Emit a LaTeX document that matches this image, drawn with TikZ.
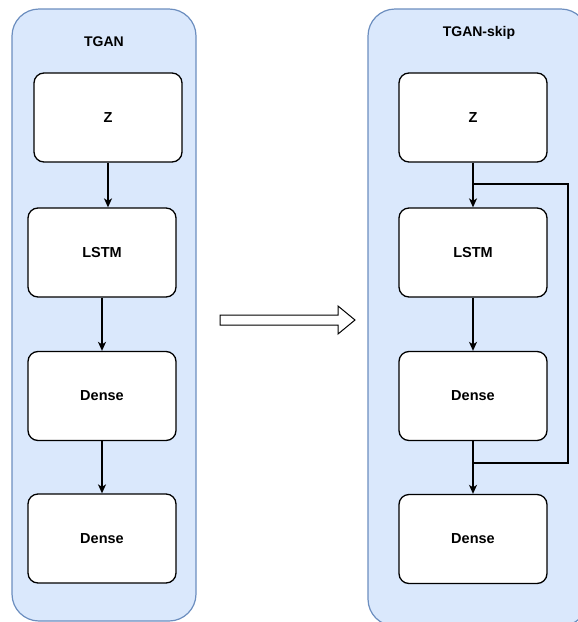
\documentclass[tikz,border=0pt]{standalone}
\usepackage{fontspec}
\setmainfont{Liberation Sans}
\usetikzlibrary{arrows.meta}
\definecolor{panelfill}{HTML}{DAE8FC}
\definecolor{panelline}{HTML}{6C8EBF}

\begin{document}
\begin{tikzpicture}[x=1pt,y=-1pt,
  panel/.style={draw=panelline, fill=panelfill, line width=1.2pt, rounded corners=27pt},
  layer/.style={draw=black, fill=white, line width=1.3pt, rounded corners=10pt,
    minimum width=148pt, minimum height=89pt, inner sep=0pt,
    font=\bfseries\fontsize{14.5}{17}\selectfont},
  title/.style={font=\bfseries\fontsize{14}{16}\selectfont},
  flow/.style={line width=1.3pt, -{Stealth[length=9pt, width=8pt, inset=2.5pt]}},
  skip/.style={line width=1.3pt},
  bigarrow/.style={draw=black, fill=white, line width=1pt, line join=miter}]
\useasboundingbox (0,0) rectangle (578,622);
\clip (0,0) rectangle (578,622);

% containers (the right one runs past the page edge)
\draw[panel] (12,9) rectangle (196,621);
\draw[panel] (368,9) rectangle (588,626);

% left column: TGAN
\node[title] (t1) at (104,42) {TGAN};
\node[layer] (z1) at (108,117.5) {Z};
\node[layer] (l1) at (102,252.5) {LSTM};
\node[layer] (d1) at (102,396) {Dense};
\node[layer] (e1) at (102,538.5) {Dense};

\draw[flow] (z1.south) -- (z1.south |- l1.north);
\draw[flow] (l1.south) -- (d1.north);
\draw[flow] (d1.south) -- (e1.north);

% right column: TGAN-skip
\node[title] (t2) at (479,33) {TGAN-skip};
\node[layer] (z2) at (473,117.5) {Z};
\node[layer] (l2) at (473,252.5) {LSTM};
\node[layer] (d2) at (473,396) {Dense};
\node[layer] (e2) at (473,539) {Dense};

\draw[flow] (z2.south) -- (l2.north);
\draw[flow] (l2.south) -- (d2.north);
\draw[flow] (d2.south) -- (e2.north);

% skip connection around LSTM and Dense
\coordinate (s1) at (z2.south |- 0,184);
\coordinate (s2) at (d2.south |- 0,463);
\draw[skip] (s1) -- (568,184) -- (568,463) -- (s2);

% transformation arrow between the two models
\draw[bigarrow] (220,315) -- (338,315) -- (338,306) -- (355,320)
  -- (338,334) -- (338,325) -- (220,325) -- cycle;
\end{tikzpicture}
\end{document}
